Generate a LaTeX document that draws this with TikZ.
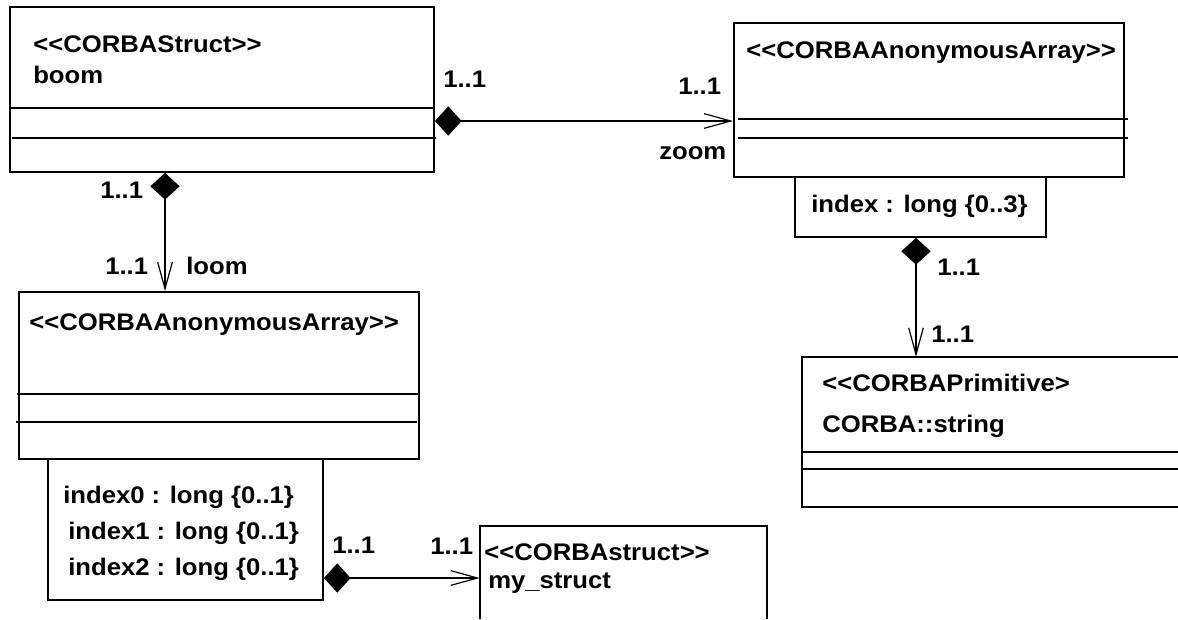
\documentclass[tikz,border=0pt]{standalone}
\usepackage{fontspec}
\setmainfont{Liberation Sans}[FakeStretch=1.07, Ligatures=TeXOff]
\usetikzlibrary{arrows.meta,fit,calc}
\begin{document}
\begin{tikzpicture}[x=0.75pt,y=-0.75pt,
  box/.style={draw,line width=1.4pt,inner sep=0pt,fit={#1}},
  hidden/.style={inner sep=0pt,fit={#1}},
  sep/.style={line width=1.4pt},
  lbl/.style={anchor=west,inner sep=0pt,font=\bfseries\fontsize{18}{21}\selectfont,text height=12.9pt,text depth=0pt},
  comp/.style={line width=1.2pt,{Diamond[length=20pt,width=22pt]}-{Straight Barb[length=20pt,width=11pt,line width=0.9pt]}}]
\useasboundingbox (0,0) rectangle (1178,619);
% boxes
\node[box={(10,7) (434,172)}] (boom) {};
\node[box={(734,23) (1124,177)}] (tarr) {};
\node[box={(795,177) (1046,237)}] (tidx) {};
\node[box={(19,292) (419,459)}] (larr) {};
\node[box={(48,459) (323,600)}] (lidx) {};
\node[hidden={(802,357) (1178,507)}] (prim) {};
\node[hidden={(480,526) (767,619)}] (ms) {};
\draw[sep] (prim.north east) -- (prim.north west) -- (prim.south west) -- (prim.south east);
\draw[sep] (ms.south west) -- (ms.north west) -- (ms.north east) -- (ms.south east);
% compartments
\draw[sep] (10,108) -- (434,108);
\draw[sep] (12,138) -- (436,138);
\draw[sep] (738,119) -- (1128,119);
\draw[sep] (738,138) -- (1128,138);
\draw[sep] (17,394) -- (419,394);
\draw[sep] (16,422) -- (417,422);
\draw[sep] (802,452) -- (1178,452);
\draw[sep] (802,469) -- (1178,469);
% connectors
\draw[comp] (boom.east |- 0,121) -- (tarr.west |- 0,121);
\draw[comp] (boom.south -| 165,0) -- (larr.north -| 165,0);
\draw[comp] (tidx.south -| 916,0) -- (prim.north -| 916,0);
\draw[comp] (lidx.east |- 0,578) -- (ms.west |- 0,578);
% texts
\node[lbl] (s1) at (33,43.5) {<<CORBAStruct>>};
\node[lbl] (s2) at (33,75) {boom};
\node[lbl] (m1) at (443,79) {1..1};
\node[lbl] (m2) at (678,86) {1..1};
\node[lbl] (r1) at (659,150.5) {zoom};
\node[lbl] (s3) at (746,49.5) {<<CORBAAnonymousArray>>};
\node[lbl] (s4) at (811,204) {index : long \{0..3\}};
\node[lbl] (m3) at (100,190) {1..1};
\node[lbl] (m4) at (105,266) {1..1};
\node[lbl] (r2) at (186,265.5) {loom};
\node[lbl] (s5) at (29,321.5) {<<CORBAAnonymousArray>>};
\node[lbl] (m5) at (937,266.5) {1..1};
\node[lbl] (m6) at (931,334) {1..1};
\node[lbl] (s6) at (822,382.5) {<<CORBAPrimitive>};
\node[lbl] (s7) at (822,424) {CORBA::string};
\node[lbl] (s8) at (63,495) {index0 : long \{0..1\}};
\node[lbl] (s9) at (68,531) {index1 : long \{0..1\}};
\node[lbl] (s10) at (68,567) {index2 : long \{0..1\}};
\node[lbl] (m7) at (332,545) {1..1};
\node[lbl] (m8) at (430,545.5) {1..1};
\node[lbl] (s11) at (484,552) {<<CORBAstruct>>};
\node[lbl] (s12) at (488,580) {my\_struct};
\end{tikzpicture}
\end{document}
